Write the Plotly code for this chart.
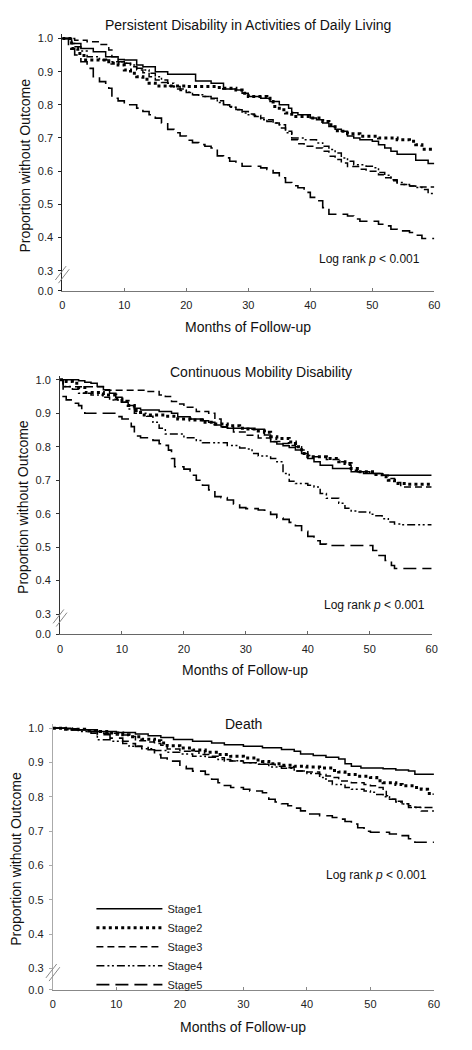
import plotly.graph_objects as go

# the page body has an 8px margin, so the figure starts 8px right / down on screen;
# the figure is made 8px smaller so that the whole page is exactly 472 x 1050
OFF = 8.0
W, H = 472 - 8, 1050 - 8

# ---------------- data ----------------
stages = ["Stage1", "Stage2", "Stage3", "Stage4", "Stage5"]
x_tick_vals = [0, 10, 20, 30, 40, 50, 60]
y_tick_vals = [0.3, 0.4, 0.5, 0.6, 0.7, 0.8, 0.9, 1.0]
y_break_tick = [0.0]
panel_titles = ["Persistent Disability in Activities of Daily Living",
                "Continuous Mobility Disability",
                "Death"]
x_title = "Months of Follow-up"
y_title = "Proportion without Outcome"
logrank_text = "Log rank <i>p</i> &lt; 0.001"

# Panel 1: Persistent disability in ADL
adl_t1 = [0, 1.5, 3, 5, 7, 9, 10, 12, 13, 15, 17, 21.5, 24, 26, 28, 29, 30, 32, 33.5, 35,
          36.5, 37, 38, 40, 41, 42, 43, 44, 45, 46, 47, 48, 50, 51, 52, 53, 54, 57, 59, 60]
adl_s1 = [1.0, 0.985, 0.97, 0.96, 0.945, 0.937, 0.935, 0.92, 0.915, 0.9, 0.892, 0.872, 0.865, 0.848, 0.845, 0.835, 0.825, 0.82, 0.81, 0.80,
          0.79, 0.776, 0.77, 0.76, 0.755, 0.745, 0.735, 0.726, 0.72, 0.706, 0.70, 0.695, 0.69, 0.68, 0.67, 0.66, 0.651, 0.633, 0.623, 0.623]
adl_t2 = [0, 1.5, 2.5, 3.5, 7, 8, 9, 10, 11, 12, 13, 14, 15, 20, 25, 26, 28, 29, 30, 33,
          33.5, 34, 35, 36, 37, 40, 42, 43, 44, 45, 46, 48, 51, 54, 56, 57, 58, 60]
adl_s2 = [1.0, 0.97, 0.955, 0.935, 0.93, 0.925, 0.92, 0.905, 0.895, 0.885, 0.877, 0.865, 0.857, 0.855, 0.852, 0.85, 0.845, 0.835, 0.825, 0.82,
          0.81, 0.795, 0.785, 0.775, 0.765, 0.76, 0.75, 0.74, 0.722, 0.72, 0.713, 0.705, 0.70, 0.695, 0.69, 0.68, 0.666, 0.666]
adl_t3 = [0, 2, 4, 6, 7.5, 8, 9, 10, 11, 12, 13, 14, 15, 16, 17, 18, 19, 20, 21, 22,
          24, 25, 26, 27, 28, 29, 30, 31, 32, 33, 34, 35, 36, 37, 38, 39, 41, 42, 43, 44,
          45, 46, 48, 49, 51, 52, 53, 54, 56, 57, 60]
adl_s3 = [1.0, 0.995, 0.99, 0.982, 0.965, 0.945, 0.93, 0.925, 0.915, 0.905, 0.897, 0.885, 0.875, 0.867, 0.857, 0.848, 0.843, 0.837, 0.83, 0.825,
          0.82, 0.812, 0.80, 0.795, 0.786, 0.78, 0.772, 0.768, 0.76, 0.75, 0.745, 0.73, 0.72, 0.695, 0.683, 0.675, 0.67, 0.66, 0.645, 0.635,
          0.625, 0.614, 0.606, 0.60, 0.589, 0.58, 0.571, 0.56, 0.555, 0.552, 0.552]
adl_t4 = [0, 1.5, 2, 3, 4, 6, 8, 10, 11, 12, 13, 14, 15, 16, 17, 18, 19, 20, 21, 23,
          24, 25, 26, 27, 28, 29, 30, 31, 32, 34, 35, 36, 37, 39, 41, 42, 43, 44, 45, 46,
          47, 49, 50, 51, 52, 53, 54, 55, 56, 57, 58, 59, 60]
adl_s4 = [1.0, 0.985, 0.975, 0.962, 0.945, 0.935, 0.93, 0.925, 0.92, 0.91, 0.905, 0.895, 0.885, 0.875, 0.865, 0.855, 0.848, 0.838, 0.83, 0.825,
          0.818, 0.807, 0.80, 0.793, 0.785, 0.775, 0.77, 0.765, 0.755, 0.745, 0.74, 0.716, 0.70, 0.695, 0.685, 0.675, 0.665, 0.655, 0.64, 0.63,
          0.619, 0.615, 0.61, 0.596, 0.588, 0.574, 0.566, 0.56, 0.555, 0.551, 0.545, 0.533, 0.53]
adl_t5 = [0, 1, 2, 3, 4, 5, 6, 7, 7.5, 8, 9, 10, 12, 13, 14, 15, 16, 17, 18, 19,
          20, 21, 22, 23, 24, 25, 26, 27, 28, 29, 32, 33, 34, 35, 36, 37, 38, 39, 40, 41,
          42, 43, 46, 47, 48, 51, 52, 53, 54, 56, 57, 58, 60]
adl_s5 = [1.0, 0.97, 0.95, 0.93, 0.91, 0.885, 0.87, 0.865, 0.85, 0.82, 0.812, 0.80, 0.79, 0.78, 0.77, 0.76, 0.745, 0.726, 0.716, 0.706,
          0.693, 0.686, 0.68, 0.675, 0.67, 0.646, 0.64, 0.63, 0.623, 0.615, 0.61, 0.605, 0.595, 0.58, 0.566, 0.556, 0.55, 0.536, 0.521, 0.511,
          0.49, 0.47, 0.465, 0.456, 0.449, 0.44, 0.435, 0.425, 0.42, 0.415, 0.407, 0.397, 0.397]

# Panel 2: Continuous mobility disability
mob_t1 = [0, 3, 4, 5, 6, 7, 8, 9, 10, 11, 12, 13, 16, 18, 19, 21, 23, 24, 25, 26,
          27, 31, 33, 34, 35, 36, 37, 38, 39, 40, 41, 42, 44, 47, 49, 52, 60]
mob_s1 = [1.0, 0.997, 0.993, 0.99, 0.98, 0.97, 0.96, 0.948, 0.933, 0.923, 0.915, 0.91, 0.905, 0.9, 0.89, 0.883, 0.878, 0.873, 0.865, 0.86,
          0.855, 0.852, 0.835, 0.815, 0.808, 0.803, 0.798, 0.79, 0.78, 0.765, 0.755, 0.745, 0.735, 0.725, 0.72, 0.715, 0.715]
mob_t2 = [0, 1, 2, 3, 4, 7, 9, 10, 11, 12, 13, 17, 19, 21, 23, 25, 27, 29, 30, 32,
          33, 34, 35, 37, 38, 38.5, 39, 40, 43, 45, 46, 47, 48, 51, 52, 53, 54, 56, 60]
mob_s2 = [1.0, 0.995, 0.99, 0.977, 0.962, 0.955, 0.943, 0.936, 0.923, 0.908, 0.895, 0.891, 0.883, 0.88, 0.873, 0.868, 0.863, 0.855, 0.853, 0.847,
          0.843, 0.83, 0.825, 0.814, 0.81, 0.80, 0.78, 0.77, 0.765, 0.755, 0.75, 0.735, 0.725, 0.717, 0.71, 0.70, 0.69, 0.688, 0.688]
mob_t3 = [0, 0.5, 7, 14, 16, 17, 18, 19, 20, 22, 24, 25, 26, 28, 30, 32, 34, 36, 37, 38,
          39, 40, 41, 43, 45, 46, 47, 48, 50, 52, 53, 54, 55, 60]
mob_s3 = [1.0, 0.979, 0.969, 0.965, 0.955, 0.95, 0.935, 0.928, 0.918, 0.905, 0.9, 0.883, 0.858, 0.844, 0.834, 0.826, 0.816, 0.81, 0.804, 0.80,
          0.79, 0.774, 0.77, 0.762, 0.755, 0.745, 0.73, 0.725, 0.72, 0.715, 0.705, 0.693, 0.68, 0.68]
mob_t4 = [0, 0.5, 2, 3, 5, 7, 8, 10, 11, 12, 14, 15, 16, 17, 20, 22, 23, 27, 29, 30,
          31, 32, 34, 35, 36, 37, 38, 40, 41, 42, 43, 45, 46, 47, 48, 50, 51, 52, 53, 54,
          55, 60]
mob_s4 = [1.0, 0.98, 0.972, 0.96, 0.955, 0.948, 0.94, 0.933, 0.913, 0.9, 0.891, 0.873, 0.855, 0.838, 0.827, 0.819, 0.812, 0.804, 0.796, 0.793,
          0.78, 0.772, 0.765, 0.755, 0.72, 0.697, 0.69, 0.685, 0.68, 0.66, 0.646, 0.631, 0.616, 0.608, 0.605, 0.598, 0.594, 0.585, 0.575, 0.569,
          0.567, 0.567]
mob_t5 = [0, 0.5, 1, 2, 3, 3.5, 4, 9, 10, 11, 11.5, 12, 13, 15, 16, 17, 17.5, 18, 18.5, 20,
          21, 22, 23, 24, 25, 26, 27, 28, 29, 30, 32, 33, 34, 35, 36, 37, 38, 39, 40, 41,
          42, 43, 50.5, 51.5, 52.5, 53.5, 54, 60]
mob_s5 = [1.0, 0.95, 0.94, 0.93, 0.923, 0.91, 0.90, 0.89, 0.883, 0.876, 0.86, 0.832, 0.827, 0.819, 0.809, 0.804, 0.79, 0.765, 0.74, 0.733,
          0.715, 0.70, 0.685, 0.671, 0.651, 0.648, 0.641, 0.629, 0.618, 0.615, 0.611, 0.61, 0.598, 0.587, 0.583, 0.574, 0.564, 0.547, 0.532, 0.519,
          0.509, 0.505, 0.49, 0.475, 0.46, 0.445, 0.436, 0.436]

# Panel 3: Death
dth_t1 = [0, 2, 4, 7, 10, 13, 15, 17, 19, 22, 25, 27, 30, 33, 36, 38, 39, 41, 43, 45,
          46, 47, 48.5, 52, 54, 56, 57, 60]
dth_s1 = [1.0, 0.998, 0.995, 0.99, 0.987, 0.983, 0.978, 0.973, 0.967, 0.962, 0.957, 0.952, 0.947, 0.943, 0.938, 0.933, 0.925, 0.92, 0.915, 0.91,
          0.896, 0.889, 0.884, 0.882, 0.878, 0.875, 0.866, 0.866]
dth_t2 = [0, 2, 5, 7, 9, 11, 12, 14, 16, 17, 18, 20, 22, 24, 26, 28, 30, 32, 33, 34,
          36, 38, 40, 42, 44, 45, 46, 48, 50, 51, 52, 54, 55, 57, 58, 59, 60]
dth_s2 = [1.0, 0.997, 0.993, 0.99, 0.986, 0.981, 0.975, 0.968, 0.963, 0.957, 0.949, 0.942, 0.936, 0.93, 0.923, 0.918, 0.913, 0.907, 0.903, 0.896,
          0.892, 0.889, 0.887, 0.884, 0.877, 0.872, 0.865, 0.86, 0.856, 0.847, 0.841, 0.836, 0.832, 0.827, 0.822, 0.81, 0.806]
dth_t3 = [0, 3, 6, 8, 10, 12, 13, 15, 16, 17, 18, 20, 23, 25, 26, 27, 30, 32, 35, 37,
          38, 40, 42, 43, 44, 45, 47, 49, 50, 51, 52, 52.5, 53, 54, 55, 56, 57, 58, 60]
dth_s3 = [1.0, 0.995, 0.99, 0.985, 0.98, 0.976, 0.963, 0.96, 0.955, 0.95, 0.939, 0.933, 0.923, 0.918, 0.914, 0.904, 0.899, 0.895, 0.889, 0.885,
          0.875, 0.872, 0.865, 0.861, 0.856, 0.846, 0.841, 0.836, 0.832, 0.827, 0.82, 0.803, 0.793, 0.787, 0.78, 0.774, 0.77, 0.759, 0.757]
dth_t4 = [0, 2, 4, 6, 7, 9, 11, 12, 14, 16, 18, 20, 22, 24, 26, 28, 30, 32, 34, 36,
          38, 40, 42, 43, 44, 46, 47, 49, 50, 51, 52, 53, 54, 55, 56, 60]
dth_s4 = [1.0, 0.995, 0.99, 0.985, 0.966, 0.962, 0.955, 0.947, 0.94, 0.935, 0.93, 0.925, 0.918, 0.915, 0.909, 0.905, 0.899, 0.895, 0.887, 0.883,
          0.875, 0.868, 0.856, 0.846, 0.836, 0.827, 0.822, 0.817, 0.813, 0.807, 0.80, 0.793, 0.785, 0.779, 0.769, 0.768]
dth_t5 = [0, 3, 5, 7, 9, 11, 12, 13, 15, 16, 17, 18, 20, 21, 22, 24, 25, 26, 27, 28,
          30, 31, 33, 34, 35, 36, 37, 38, 39, 40, 42, 44, 45, 46, 47, 48, 49, 50, 53, 55,
          56, 57, 60]
dth_s5 = [1.0, 0.995, 0.99, 0.981, 0.971, 0.962, 0.955, 0.947, 0.937, 0.923, 0.913, 0.904, 0.889, 0.882, 0.875, 0.865, 0.851, 0.841, 0.833, 0.827,
          0.822, 0.817, 0.812, 0.793, 0.785, 0.78, 0.774, 0.767, 0.759, 0.75, 0.745, 0.74, 0.735, 0.728, 0.721, 0.71, 0.70, 0.697, 0.692, 0.687,
          0.678, 0.668, 0.667]

panel_data = [
    [(adl_t1, adl_s1), (adl_t2, adl_s2), (adl_t3, adl_s3), (adl_t4, adl_s4), (adl_t5, adl_s5)],
    [(mob_t1, mob_s1), (mob_t2, mob_s2), (mob_t3, mob_s3), (mob_t4, mob_s4), (mob_t5, mob_s5)],
    [(dth_t1, dth_s1), (dth_t2, dth_s2), (dth_t3, dth_s3), (dth_t4, dth_s4), (dth_t5, dth_s5)],
]

# ---------------- styles / layout geometry (screen pixels) ----------------
FONT = "Arial, Liberation Sans, Helvetica, sans-serif"
line_styles = [
    dict(color="black", width=1.5, dash="solid"),
    dict(color="black", width=3.0, dash="3px,3.2px"),
    dict(color="black", width=1.5, dash="7px,4px"),
    dict(color="black", width=1.5, dash="8px,3px,2px,2.5px,2px,3px"),
    dict(color="black", width=1.6, dash="13px,6px"),
]

# x0, x1: plot left/right; y10: pixel of 1.0; y03: pixel of 0.3; y00: pixel of 0.0
geom = [
    dict(x0=60.3, x1=439.7, y10=36.7, y03=270.7, y00=291.0, ycol="#222222", xcol="#777777",
         title_xy=(250, 23), xt_xy=(249.5, 327), yt_xy=(22, 165), lr_xy=(427, 259)),
    dict(x0=58.0, x1=437.0, y10=380.7, y03=616.7, y00=637.3, ycol="#333333", xcol="#666666",
         title_xy=(262.5, 373), xt_xy=(247, 673.3), yt_xy=(20, 509), lr_xy=(432, 607.3)),
    dict(x0=50.7, x1=439.3, y10=731.7, y03=974.0, y00=995.3, ycol="#aaaaaa", xcol="#888888",
         title_xy=(245, 727.7), xt_xy=(245, 1032.7), yt_xy=(13.5, 863), lr_xy=(434, 880)),
]
YTOP = 1.012


def fx(px):
    return (px - OFF) / W


def fy(py):
    return 1 - (py - OFF) / H


fig = go.Figure()
layout = dict(
    width=W, height=H,
    margin=dict(l=0, r=0, t=0, b=0),
    paper_bgcolor="white", plot_bgcolor="rgba(0,0,0,0)",
    font=dict(family=FONT, size=11, color="#222222"),
    showlegend=True,
    legend=dict(x=fx(90), y=fy(899), xanchor="left", yanchor="top",
                bgcolor="rgba(0,0,0,0)", font=dict(family=FONT, size=11, color="#222222"),
                itemwidth=66, tracegroupgap=0, traceorder="normal"),
)
annotations = []
shapes = []

for i, g in enumerate(geom):
    k = i + 1
    ks = "" if k == 1 else str(k)
    kb = str(k + 3)
    per01 = (g["y03"] - g["y10"]) / 0.7
    ytop_px = g["y10"] - (YTOP - 1.0) * per01

    layout["xaxis" + ks] = dict(
        domain=[fx(g["x0"]), fx(g["x1"])], range=[0, 60], anchor="y" + kb,
        tickvals=x_tick_vals, ticks="inside", ticklen=3, tickcolor=g["xcol"],
        showline=True, linecolor=g["xcol"], linewidth=1, ticklabelstandoff=4,
        showgrid=False, zeroline=False, tickfont=dict(size=11, color="#222222"),
    )
    layout["yaxis" + ks] = dict(
        domain=[fy(g["y03"]), fy(ytop_px)], range=[0.3, YTOP], anchor="x" + ks,
        tickvals=y_tick_vals, ticktext=["%.1f" % v for v in y_tick_vals],
        ticks="outside", ticklen=3, tickcolor=g["ycol"], ticklabelstandoff=3,
        showline=True, linecolor=g["ycol"], linewidth=1,
        showgrid=False, zeroline=False, tickfont=dict(size=11, color="#222222"),
    )
    layout["yaxis" + kb] = dict(
        domain=[fy(g["y00"]), fy(g["y03"])], range=[0, 1], anchor="x" + ks,
        tickvals=y_break_tick, ticktext=["%.1f" % v for v in y_break_tick],
        ticks="outside", ticklen=3, tickcolor=g["ycol"], ticklabelstandoff=3,
        showline=True, linecolor=g["ycol"], linewidth=1,
        showgrid=False, zeroline=False, tickfont=dict(size=11, color="#222222"),
    )

    # empty trace so that the lower (0.0) segment of the broken axis exists
    fig.add_trace(go.Scatter(x=[], y=[], mode="lines", showlegend=False, hoverinfo="skip",
                             xaxis="x" + ks, yaxis="y" + kb))

    for j, (t, s) in enumerate(panel_data[i]):
        fig.add_trace(go.Scatter(
            x=t, y=s, mode="lines", line=dict(shape="hv", **line_styles[j]),
            name=stages[j], legendgroup=stages[j], showlegend=(k == 3),
            xaxis="x" + ks, yaxis="y" + ks, hoverinfo="skip",
        ))

    # titles & labels
    tx, ty = g["title_xy"]
    annotations.append(dict(text=panel_titles[i], x=fx(tx), y=fy(ty), xref="paper", yref="paper",
                            xanchor="center", yanchor="middle", showarrow=False,
                            font=dict(size=14, color="#111111")))
    ax, ay = g["xt_xy"]
    annotations.append(dict(text=x_title, x=fx(ax), y=fy(ay), xref="paper", yref="paper",
                            xanchor="center", yanchor="middle", showarrow=False,
                            font=dict(size=14, color="#111111")))
    bx, by = g["yt_xy"]
    annotations.append(dict(text=y_title, x=fx(bx), y=fy(by), xref="paper", yref="paper",
                            xanchor="center", yanchor="middle", showarrow=False, textangle=-90,
                            font=dict(size=14, color="#111111")))
    lx, ly = g["lr_xy"]
    annotations.append(dict(text=logrank_text, x=fx(lx), y=fy(ly), xref="paper", yref="paper",
                            xanchor="right", yanchor="middle", showarrow=False,
                            font=dict(size=12, color="#111111")))

    # axis-break marks
    xc, yc = g["x0"], g["y03"] + 4
    for dx in (-1.6, 1.6):
        shapes.append(dict(type="line", xref="paper", yref="paper",
                           x0=fx(xc - 5.5 + dx), y0=fy(yc + 7 + dx),
                           x1=fx(xc + 5.5 + dx), y1=fy(yc - 7 + dx),
                           line=dict(color="#888888", width=1)))

layout["annotations"] = annotations
layout["shapes"] = shapes
fig.update_layout(**layout)
fig.write_html("out.html")
